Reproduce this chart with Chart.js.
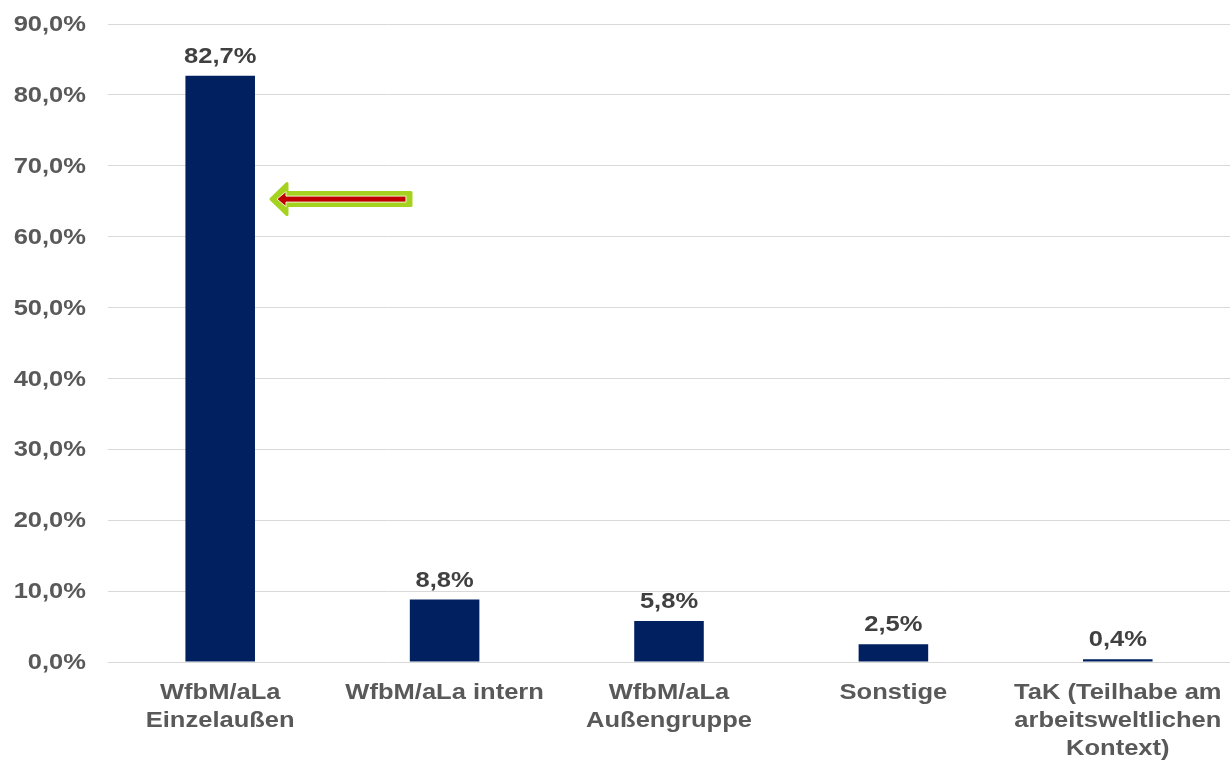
<!DOCTYPE html>
<html>
<head>
<meta charset="utf-8">
<script src="https://cdn.jsdelivr.net/npm/chart.js@4"></script>
<style>
  html, body { margin: 0; padding: 0; background: #fff; }
  #wrap { width: 1231px; height: 760px; }
</style>
</head>
<body>
<div id="wrap"><canvas id="chart"></canvas></div>
<script>
const categories = [
  ["WfbM/aLa", "Einzelaußen"],
  "WfbM/aLa intern",
  ["WfbM/aLa", "Außengruppe"],
  "Sonstige",
  ["TaK (Teilhabe am", "arbeitsweltlichen", "Kontext)"]
];
const values = [82.7, 8.8, 5.8, 2.5, 0.4];
const yTicks = [0, 10, 20, 30, 40, 50, 60, 70, 80, 90];
const arrowLevel = 65.3; // Pfeil zeigt auf ersten Balken

const FONT = "bold 22px 'Liberation Sans', Arial, sans-serif";
const STRETCH = 1.16; // Originalschrift ist etwas breit gezogen
const fmt = v => v.toFixed(1).replace(".", ",") + "%";

function wideText(ctx, text, x, y, align) {
  ctx.save();
  ctx.translate(x, y);
  ctx.scale(STRETCH, 1);
  ctx.textAlign = align;
  ctx.fillText(text, 0, 0);
  ctx.restore();
}

// Achsenbeschriftungen + Werte über den Balken
const labelsPlugin = {
  id: "labelsPlugin",
  afterDraw(chart) {
    const ctx = chart.ctx;
    const { x, y } = chart.scales;
    ctx.save();
    ctx.font = FONT;

    ctx.fillStyle = "#595959";
    ctx.textBaseline = "middle";
    yTicks.forEach(v => wideText(ctx, fmt(v), 86, y.getPixelForValue(v) + 1, "right"));

    categories.forEach((lab, i) => {
      const lines = Array.isArray(lab) ? lab : [lab];
      const cx = x.getPixelForTick(i);
      lines.forEach((ln, j) => wideText(ctx, ln, cx, y.bottom + 31 + j * 28, "center"));
    });

    ctx.fillStyle = "#404040";
    ctx.textBaseline = "alphabetic";
    chart.getDatasetMeta(0).data.forEach((bar, i) => {
      wideText(ctx, fmt(values[i]), bar.x, bar.y - 13, "center");
    });
    ctx.restore();
  }
};

// Pfeil-Markierung
const arrowMark = {
  id: "arrowMark",
  afterDatasetsDraw(chart) {
    const ctx = chart.ctx;
    const bar = chart.getDatasetMeta(0).data[0];
    const y = chart.scales.y.getPixelForValue(arrowLevel);
    const tip = bar.x + bar.width / 2 + 16;
    const tail = tip + 140;

    function arrowPath(t, e, shaftH, headH, headW) {
      ctx.beginPath();
      ctx.moveTo(t, y);
      ctx.lineTo(t + headW, y - headH / 2);
      ctx.lineTo(t + headW, y - shaftH / 2);
      ctx.lineTo(e, y - shaftH / 2);
      ctx.lineTo(e, y + shaftH / 2);
      ctx.lineTo(t + headW, y + shaftH / 2);
      ctx.lineTo(t + headW, y + headH / 2);
      ctx.closePath();
    }
    ctx.save();
    ctx.lineJoin = "round";
    arrowPath(tip, tail, 13, 31, 16);
    ctx.fillStyle = "#a5d21e";
    ctx.fill();
    ctx.strokeStyle = "#a5d21e";
    ctx.lineWidth = 3;
    ctx.stroke();
    arrowPath(tip + 6, tail - 5, 6, 15, 9);
    ctx.fillStyle = "#c00000";
    ctx.fill();
    ctx.strokeStyle = "#eef6d0";
    ctx.lineWidth = 1;
    ctx.stroke();
    ctx.restore();
  }
};

new Chart(document.getElementById("chart"), {
  type: "bar",
  data: {
    labels: categories,
    datasets: [{
      data: values,
      backgroundColor: "#002060",
      barPercentage: 0.31,
      categoryPercentage: 1.0
    }]
  },
  options: {
    responsive: true,
    maintainAspectRatio: false,
    animation: false,
    layout: { padding: { top: 24, right: 1, left: 0, bottom: 0 } },
    plugins: {
      legend: { display: false },
      tooltip: { enabled: false }
    },
    scales: {
      x: {
        grid: { display: false },
        border: { display: false },
        afterFit(scale) { scale.height = 98; },
        ticks: { display: false, autoSkip: false }
      },
      y: {
        min: 0,
        max: 90,
        afterBuildTicks(scale) {
          scale.ticks = yTicks.map(v => ({ value: v }));
        },
        afterFit(scale) { scale.width = 108; },
        grid: { color: "#d9d9d9", lineWidth: 1, drawTicks: false },
        border: { display: false },
        ticks: { display: false }
      }
    }
  },
  plugins: [labelsPlugin, arrowMark]
});
</script>
</body>
</html>
